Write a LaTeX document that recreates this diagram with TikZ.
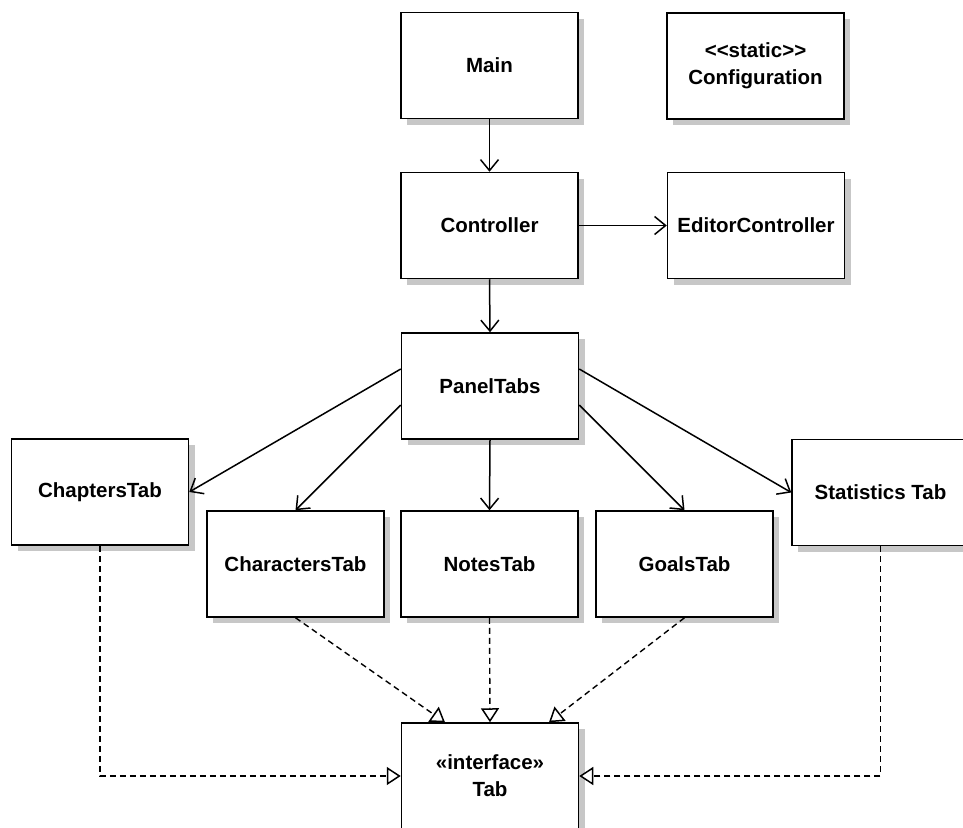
\documentclass[tikz,border=0pt]{standalone}
\usepackage{fontspec}
\newfontfamily\umlfont{Liberation Sans}
\usetikzlibrary{arrows.meta,shadows}
\begin{document}
\begin{tikzpicture}[x=1pt,y=-1pt,
  cls/.style={draw=black, line width=1.5pt, fill=white,
    minimum width=177pt, minimum height=106pt, inner sep=0pt, align=center,
    font=\umlfont\bfseries\fontsize{20.5}{27}\selectfont,
    drop shadow={shadow xshift=6pt, shadow yshift=-6pt, fill=black!22, opacity=1}},
  assoc/.style={line width=1.5pt,
    -{Straight Barb[length=11pt,width=18pt,line width=1.5pt]}},
  realize/.style={line width=1.4pt, dash pattern=on 6pt off 4pt,
    -{Triangle[open,length=14pt,width=18pt,line width=1.5pt,fill=white]}}]
  \clip (0,0) rectangle (963,827);
  \fill[white] (0,0) rectangle (963,827);

  % classes
  \node[cls] (main)    at (489.5,65.5)  {Main};
  \node[cls] (config)  at (755.5,66)    {<<static>>\\Configuration};
  \node[cls] (ctrl)    at (489.5,225.5) {Controller};
  \node[cls] (editor)  at (756,225.5)   {EditorController};
  \node[cls] (panel)   at (490,386)     {PanelTabs};
  \node[cls] (chap)    at (100,492)     {ChaptersTab};
  \node[cls] (chars)   at (295.5,564)   {CharactersTab};
  \node[cls] (notes)   at (489.5,564)   {NotesTab};
  \node[cls] (goals)   at (684.5,564)   {GoalsTab};
  \node[cls] (stats)   at (880.5,492.5) {Statistics Tab};
  \node[cls] (tab)     at (490,776)     {«interface»\\Tab};

  % associations
  \draw[assoc] (main.south) -- (ctrl.north);
  \draw[assoc] (ctrl.east) -- (editor.west);
  \draw[assoc] (ctrl.south) -- (panel.north);
  \draw[assoc] ([yshift=17pt]panel.west) -- (chap.east);
  \draw[assoc] ([yshift=-19pt]panel.west) -- (chars.north);
  \draw[assoc] (panel.south) -- (notes.north);
  \draw[assoc] ([yshift=-19pt]panel.east) -- (goals.north);
  \draw[assoc] ([yshift=17pt]panel.east) -- (stats.west);

  % realizations of the interface
  \draw[realize] (chap.south) |- (tab.west);
  \draw[realize] (stats.south) |- (tab.east);
  \draw[realize] (chars.south) -- ([xshift=-45pt]tab.north);
  \draw[realize] (notes.south) -- (tab.north);
  \draw[realize] (goals.south) -- ([xshift=59pt]tab.north);
\end{tikzpicture}
\end{document}
